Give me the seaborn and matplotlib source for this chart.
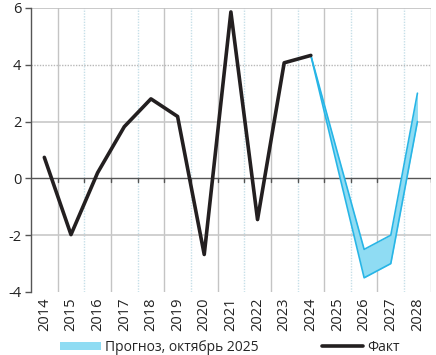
import numpy as np
import pandas as pd
import matplotlib
matplotlib.use('Agg')
import matplotlib.pyplot as plt
import seaborn as sns
from matplotlib.patches import Patch
from matplotlib.lines import Line2D

# Data
years = [str(y) for y in range(2014, 2029)]
fact_years = years[:11]
fact_values = [0.74, -1.98, 0.2, 1.82, 2.8, 2.18, -2.68, 5.86, -1.45, 4.07, 4.33]
fc_years = ['2024', '2025', '2026', '2027', '2028']
fc_upper = [4.33, 0.9, -2.5, -2.0, 3.0]
fc_lower = [4.33, 0.4, -3.5, -3.0, 2.0]
y_ticks = [-4, -2, 0, 2, 4, 6]

sns.set_theme(style='white')
plt.rcParams['font.family'] = ['Open Sans', 'DejaVu Sans']

fact_df = pd.DataFrame({'x': [years.index(y) for y in fact_years], 'v': fact_values})
fc_df = pd.DataFrame({'x': [years.index(y) for y in fc_years], 'hi': fc_upper, 'lo': fc_lower})

fig = plt.figure(figsize=(4.36, 3.55), dpi=100)
ax = fig.add_axes([0.0711, 0.1775, 0.9169, 0.80])

band_fill = '#8fdcf3'
band_edge = '#27b5e6'
fact_col = '#231f20'

# vertical grid at category boundaries
for k in range(len(years)):
    b = k + 0.5
    if k % 2 == 0:
        ax.axvline(b, color='#c4c4c4', lw=1.0, zorder=0)
    else:
        ax.axvline(b, color='#c6dfe8', lw=1.0, ls=(0, (1, 1)), zorder=0)

# horizontal grid
for v in [-2, 2]:
    ax.axhline(v, color='#c8c8c8', lw=1.2, zorder=0)
ax.axhline(4, color='#b8b8b8', lw=1.0, ls=(0, (1, 1)), zorder=0)
ax.axhline(6, color='#c0c0c0', lw=1.2, zorder=0)
ax.axhline(0, color='#555555', lw=1.0, zorder=1)
for k in range(len(years)):
    ax.plot([k + 0.5, k + 0.5], [0, -0.12], color='#555555', lw=1.0, zorder=1)

# forecast band
ax.fill_between(fc_df['x'], fc_df['lo'], fc_df['hi'], color=band_fill, lw=0, zorder=2)
sns.lineplot(data=fc_df, x='x', y='hi', ax=ax, color=band_edge, lw=1.2, zorder=3)
sns.lineplot(data=fc_df, x='x', y='lo', ax=ax, color=band_edge, lw=1.2, zorder=3)

# fact
sns.lineplot(data=fact_df, x='x', y='v', ax=ax, color=fact_col, lw=2.6, zorder=4)

ax.set_xlim(-0.5, len(years) - 0.5)
ax.set_ylim(-4, 6)
ax.set_xticks(range(len(years)))
ax.set_xticklabels(years, rotation=90, fontsize=10.5, color='#222222')
ax.set_yticks(y_ticks)
ax.set_yticklabels([str(t) for t in y_ticks], fontsize=10.5, color='#222222')
ax.tick_params(axis='x', length=0, pad=4)
ax.tick_params(axis='y', length=4, width=1, color='#555555', left=True, pad=3)
ax.set_xlabel('')
ax.set_ylabel('')
for s in ['top', 'right', 'bottom']:
    ax.spines[s].set_visible(False)
ax.spines['left'].set_color('#555555')
ax.spines['left'].set_linewidth(1.0)

handles = [Patch(facecolor=band_fill, edgecolor='none'),
           Line2D([0], [0], color=fact_col, lw=2.6)]
fig.legend(handles, ['Прогноз, октябрь 2025', 'Факт'], loc='lower left',
           bbox_to_anchor=(0.11, -0.035), ncol=2, frameon=False, fontsize=10,
           handlelength=2.9, handleheight=0.6, handletextpad=0.3, columnspacing=4.6)

fig.savefig('out.png', dpi=100)
